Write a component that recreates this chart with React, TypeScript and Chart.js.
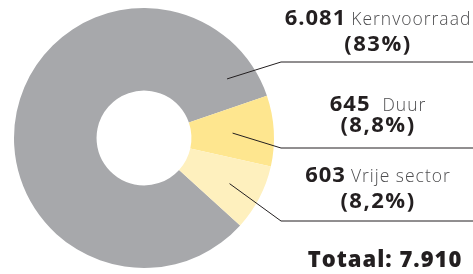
import React, { useEffect, useRef } from "react";
import { Chart, registerables } from "chart.js";

Chart.register(...registerables);

const categories = ["Kernvoorraad", "Duur", "Vrije sector"];
const values = [6081, 645, 603];
const valueLabels = ["6.081", "645", "603"];
const percentLabels = ["(83%)", "(8,8%)", "(8,2%)"];
const totalLabel = "Totaal: 7.910";
const colors = ["#A7A8AB", "#FEE68F", "#FEF0BE"];

// label layout (styling only)
const anchorAlong = [0.945, 0.5, 0.52];
const anchorRadial = [0.66, 0.5, 0.6];
const elbowY = [62, 148, 221];
const line1Y = [25, 111, 182];
const line2Y = [51, 132, 208];
const elbowX = 281;
const textCX = 378;
const totalY = 267;

const FONT = "'Open Sans', 'DejaVu Sans', sans-serif";
const DARK = "#231F20";

const labelPlugin = {
  id: "labelPlugin",
  afterDraw(chart: any) {
    const ctx = chart.ctx as any;
    const meta = chart.getDatasetMeta(0);
    const W = chart.width;
    ctx.save();
    meta.data.forEach((arc: any, i: number) => {
      const p = arc.getProps(["x", "y", "startAngle", "endAngle", "innerRadius", "outerRadius"], true);
      const a = p.startAngle + (p.endAngle - p.startAngle) * anchorAlong[i];
      const r = p.innerRadius + (p.outerRadius - p.innerRadius) * anchorRadial[i];
      const ax = p.x + Math.cos(a) * r;
      const ay = p.y + Math.sin(a) * r;
      ctx.beginPath();
      ctx.strokeStyle = DARK;
      ctx.lineWidth = 1;
      ctx.moveTo(ax, ay);
      ctx.lineTo(elbowX, elbowY[i]);
      ctx.lineTo(W, elbowY[i]);
      ctx.stroke();

      const boldFont = `700 22px ${FONT}`;
      const lightFont = `300 17.5px ${FONT}`;
      ctx.letterSpacing = "1px";
      ctx.font = boldFont;
      const v = valueLabels[i];
      const vw = ctx.measureText(v).width;
      ctx.font = lightFont;
      const gap = i === 1 ? 12 : 5;
      const cw = ctx.measureText(categories[i]).width;
      const total = vw + gap + cw;
      const x = textCX - total / 2;
      ctx.textBaseline = "alphabetic";
      ctx.textAlign = "left";
      ctx.font = boldFont;
      ctx.fillStyle = DARK;
      ctx.fillText(v, x, line1Y[i]);
      ctx.font = lightFont;
      ctx.fillStyle = "#4D4D4F";
      ctx.fillText(categories[i], x + vw + gap, line1Y[i]);

      ctx.letterSpacing = "1.5px";
      ctx.font = boldFont;
      ctx.fillStyle = DARK;
      ctx.textAlign = "center";
      ctx.fillText(percentLabels[i], textCX, line2Y[i]);
    });
    ctx.letterSpacing = "1px";
    ctx.font = `800 22px ${FONT}`;
    ctx.textAlign = "center";
    ctx.fillStyle = DARK;
    ctx.fillText(totalLabel, 385, totalY);
    ctx.restore();
  },
};

export default function App() {
  const ref = useRef<HTMLCanvasElement>(null);
  useEffect(() => {
    if (!ref.current) return;
    const chart = new Chart(ref.current, {
      type: "doughnut",
      data: {
        labels: categories,
        datasets: [
          {
            data: values,
            backgroundColor: colors,
            borderWidth: 0,
            hoverOffset: 0,
          },
        ],
      },
      options: {
        animation: false,
        responsive: false,
        cutout: "36.5%",
        rotation: 132.3,
        layout: { padding: { left: 14, right: 199, top: 8, bottom: 6 } },
        plugins: { legend: { display: false }, tooltip: { enabled: false } },
      },
      plugins: [labelPlugin],
    });
    return () => chart.destroy();
  }, []);
  return (
    <div style={{ position: "fixed", left: 0, top: 0, width: 473, height: 274, background: "#fff" }}>
      <canvas ref={ref} width={473} height={274} style={{ width: 473, height: 274 }} />
    </div>
  );
}
